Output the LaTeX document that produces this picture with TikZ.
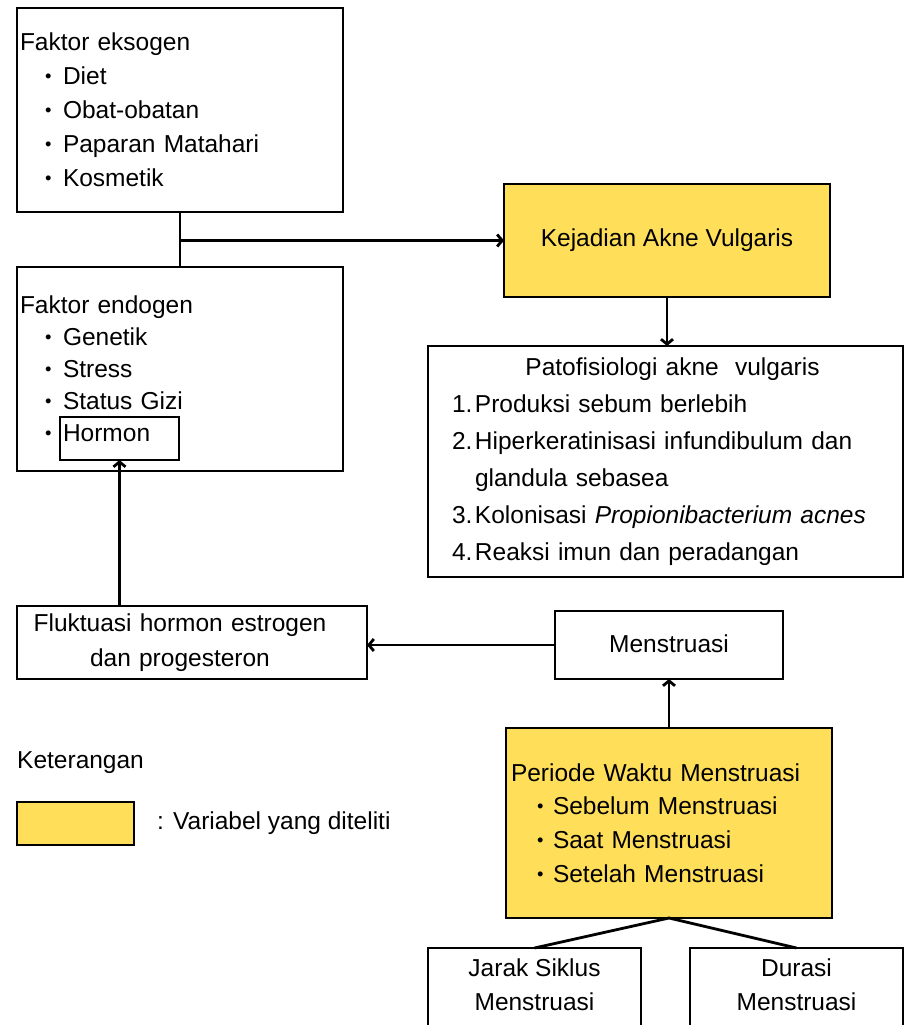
\documentclass[tikz,border=0pt]{standalone}
\usepackage{fontspec}
\usepackage{graphicx}
\setmainfont{Liberation Sans}
\usetikzlibrary{positioning,arrows.meta}

\definecolor{varyellow}{HTML}{FFDE59}
\newcommand{\bul}[2]{\hspace*{#1}\makebox[#2][l]{\raisebox{0.09em}{\scalebox{0.75}{\textbullet}}}}
\newcommand{\numitem}[1]{\hspace*{24pt}\makebox[23pt][l]{#1}}

\tikzset{
  box/.style={draw, rectangle, line width=2.8pt, inner sep=0pt, outer sep=0pt},
  varbox/.style={box, fill=varyellow},
  conn/.style={line width=2.8pt, line join=round},
  arr/.style={conn, -{Straight Barb[length=5pt,width=12pt]}},
}

\begin{document}
\begin{tikzpicture}[x=1pt,y=1pt,font=\fontsize{24.5}{34}\selectfont]
  \useasboundingbox (0,0) rectangle (904,-1025);
  \clip (0,0) rectangle (904,-1025);

  % Faktor
  \node[box, minimum width=326pt, minimum height=204pt, inner xsep=3pt, text width=320pt, align=left] (eksogen) at (180,-110)
    {Faktor eksogen\\ \bul{25pt}{18pt}Diet\\ \bul{25pt}{18pt}Obat-obatan\\ \bul{25pt}{18pt}Paparan Matahari\\ \bul{25pt}{18pt}Kosmetik}; %
  \node[box, below=55pt of eksogen, minimum width=326pt, minimum height=204pt, inner xsep=3pt, text width=320pt, align=left,
        font=\fontsize{24.5}{32}\selectfont] (endogen)
    {Faktor endogen\\ \bul{25pt}{18pt}Genetik\\ \bul{25pt}{18pt}Stress\\ \bul{25pt}{18pt}Status Gizi\\ \bul{25pt}{18pt}Hormon}; %
  \node[box, minimum width=119pt, minimum height=43pt] (hormon) at (119.5,-438.5) {}; %

  % Akne
  \node[varbox, minimum width=326pt, minimum height=113pt] (kejadian) at (667,-240.5) {Kejadian Akne Vulgaris}; %
  \node[box, below=49pt of kejadian, xshift=-1.5pt, minimum width=475pt, minimum height=231pt, text width=475pt, align=left,
        font=\fontsize{24.5}{37}\selectfont] (pato)
    {\hspace*{14pt}\makebox[461pt][c]{Patofisiologi akne\ \ vulgaris}\\
     \numitem{1.}Produksi sebum berlebih\\
     \numitem{2.}Hiperkeratinisasi infundibulum dan\\
     \hspace*{47pt}glandula sebasea\\
     \numitem{3.}Kolonisasi \textit{Propionibacterium acnes}\\
     \numitem{4.}Reaksi imun dan peradangan}; %

  % Menstruasi
  \node[box, minimum width=228pt, minimum height=68pt] (menstruasi) at (669,-645) {\raisebox{3pt}{Menstruasi}}; %
  \node[box, left=188pt of menstruasi, yshift=2.5pt, minimum width=350pt, minimum height=73pt, text width=350pt, align=left,
        font=\fontsize{24.5}{35}\selectfont] (fluktuasi)
    {\makebox[326pt][c]{Fluktuasi hormon estrogen}\\ \makebox[326pt][c]{dan progesteron}}; %
  \node[varbox, below=49pt of menstruasi, minimum width=326pt, minimum height=190pt, inner xsep=5pt, text width=316pt, align=left,
        font=\fontsize{24.5}{33.7}\selectfont] (periode)
    {Periode Waktu Menstruasi\\ \bul{26pt}{16pt}Sebelum Menstruasi\\ \bul{26pt}{16pt}Saat Menstruasi\\ \bul{26pt}{16pt}Setelah Menstruasi}; %
  \node[box, anchor=north, minimum width=213pt, minimum height=118pt, align=center] (jarak) at (534.5,-948)
    {Jarak Siklus\\Menstruasi\\\strut}; %
  \node[box, anchor=north, minimum width=213pt, minimum height=118pt, align=center] (durasi) at (796.5,-948)
    {Durasi\\Menstruasi\\\strut}; %

  % Keterangan
  \node[anchor=west, inner sep=0pt] (keterangan) at (17,-763) {Keterangan};
  \node[varbox, minimum width=117pt, minimum height=43pt] (legbox) at (75.5,-823.5) {};
  \node[right=23pt of legbox, inner sep=0pt] (legtext) {: Variabel yang diteliti};

  % Edges
  \draw[conn] (eksogen.south) -- (endogen.north);
  \coordinate (junc) at (eksogen.south |- kejadian.west);
  \draw[arr] (junc) -- (kejadian.west);
  \draw[arr] (kejadian.south) -- (kejadian.south |- pato.north);
  \draw[arr] (hormon.south |- fluktuasi.north) -- (hormon.south);
  \draw[arr] (menstruasi.west) -- (fluktuasi.east |- menstruasi.west);
  \draw[arr] (periode.north) -- (menstruasi.south);
  \draw[conn] (jarak.north) -- (periode.south) -- (durasi.north);

\end{tikzpicture}
\end{document}
